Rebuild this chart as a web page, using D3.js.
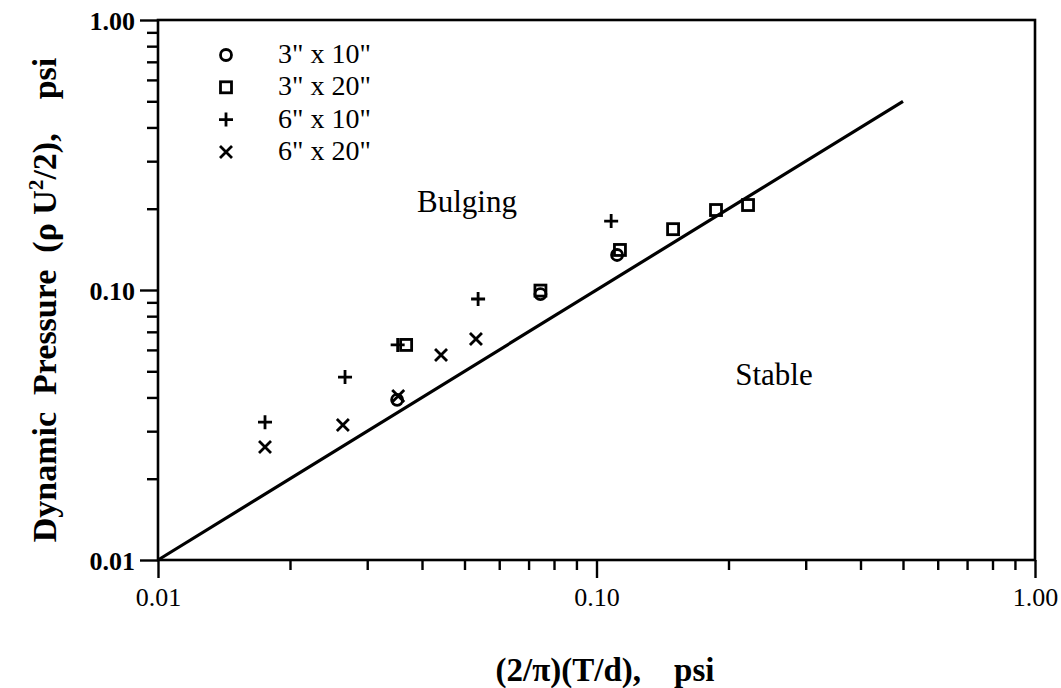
<!DOCTYPE html>
<html>
<head>
<meta charset="utf-8">
<script src="https://cdn.jsdelivr.net/npm/d3@7"></script>
<style>
  body { margin: 0; background: #fff; }
  svg { display: block; font-family: "Liberation Serif", "Times New Roman", serif; }
</style>
</head>
<body>
<svg id="chart" width="1061" height="688"></svg>
<script>
// series: [x, y] pairs
const circle3x10 = [[0.0351, 0.0392], [0.0745, 0.0966], [0.1114, 0.1348]];
const square3x20 = [[0.0368, 0.0626], [0.0745, 0.0995], [0.1131, 0.1407], [0.1495, 0.168], [0.1873, 0.1978], [0.2216, 0.2064]];
const plus6x10 = [[0.01754, 0.0324], [0.0267, 0.0476], [0.0352, 0.0626], [0.0537, 0.0926], [0.108, 0.180]];
const cross6x20 = [[0.01754, 0.0262], [0.0264, 0.0316], [0.0353, 0.0405], [0.0442, 0.0574], [0.0531, 0.0659]];
const boundary = [[0.01, 0.01], [0.5, 0.5]];
const legendLabels = ['3" x 10"', '3" x 20"', '6" x 10"', '6" x 20"'];
const majorTicks = [0.01, 0.1, 1];
const tickLabels = ["0.01", "0.10", "1.00"];

const svg = d3.select("#chart");
const m = { left: 158, right: 1035, top: 20, bottom: 560 };

const x = d3.scaleLog().domain([0.01, 1]).range([m.left, m.right]);
const y = d3.scaleLog().domain([0.01, 1]).range([m.bottom, m.top]);

const minor = d3.range(-2, 0).flatMap(e => d3.range(2, 10).map(k => k * Math.pow(10, e)));

const xMinor = d3.axisBottom(x).tickValues(minor).tickSize(10).tickFormat("");
const yMinor = d3.axisLeft(y).tickValues(minor).tickSize(11).tickFormat("");
const xMajor = d3.axisBottom(x).tickValues(majorTicks).tickSize(18).tickFormat((d, i) => tickLabels[i]).tickPadding(10);
const yMajor = d3.axisLeft(y).tickValues(majorTicks).tickSize(18).tickFormat((d, i) => tickLabels[i]).tickPadding(5);

function style(g) {
  g.select(".domain").remove();
  g.selectAll("line").attr("stroke", "#000").attr("stroke-width", 2.4);
  g.selectAll("text").attr("fill", "#000").attr("font-size", 26)
    .attr("font-family", "Liberation Serif, serif");
}
svg.append("g").attr("transform", `translate(0,${m.bottom})`).call(xMinor).call(style);
svg.append("g").attr("transform", `translate(0,${m.bottom})`).call(xMajor).call(style);
svg.append("g").attr("transform", `translate(${m.left},0)`).call(yMinor).call(style);
svg.append("g").attr("transform", `translate(${m.left},0)`).call(yMajor).call(style)
  .selectAll("text").attr("font-weight", "bold").attr("dy", "0.35em");

// frame
svg.append("rect")
  .attr("x", m.left).attr("y", m.top)
  .attr("width", m.right - m.left).attr("height", m.bottom - m.top)
  .attr("fill", "none").attr("stroke", "#000").attr("stroke-width", 2.6);

// boundary line
svg.append("path")
  .datum(boundary)
  .attr("d", d3.line().x(d => x(d[0])).y(d => y(d[1])))
  .attr("fill", "none").attr("stroke", "#000").attr("stroke-width", 3.2);

// symbols
const sw = 2.8;
function drawMark(g, type) {
  if (type === 0) g.append("circle").attr("r", 5.5);
  else if (type === 1) g.append("rect").attr("x", -5.5).attr("y", -5.5).attr("width", 11).attr("height", 11);
  else if (type === 2) g.append("path").attr("d", "M-7,0H7M0,-7V7");
  else g.append("path").attr("d", "M-6,-6L6,6M-6,6L6,-6");
  g.selectAll("*").attr("fill", "none").attr("stroke", "#000").attr("stroke-width", sw);
}
[circle3x10, square3x20, plus6x10, cross6x20].forEach((series, t) => {
  series.forEach(p => {
    const g = svg.append("g").attr("transform", `translate(${x(p[0])},${y(p[1])})`);
    drawMark(g, t);
  });
});

// legend
legendLabels.forEach((lab, i) => {
  const yy = 55 + i * 32.3;
  drawMark(svg.append("g").attr("transform", `translate(226,${yy})`), i);
  svg.append("text").attr("x", 278).attr("y", yy + 8)
    .attr("font-size", 28).text(lab);
});

// region labels
svg.append("text").attr("x", 467).attr("y", 212).attr("text-anchor", "middle")
  .attr("font-size", 31).text("Bulging");
svg.append("text").attr("x", 774).attr("y", 385).attr("text-anchor", "middle")
  .attr("font-size", 31).text("Stable");

// axis titles
svg.append("text").attr("x", 605).attr("y", 681).attr("text-anchor", "middle")
  .attr("font-size", 33).attr("font-weight", "bold").attr("xml:space", "preserve")
  .text("(2/\u03c0)(T/d),    psi");

const yt = svg.append("text").attr("transform", "translate(56,300) rotate(-90)")
  .attr("text-anchor", "middle").attr("font-size", 34).attr("font-weight", "bold")
  .attr("xml:space", "preserve");
yt.append("tspan").text("Dynamic  Pressure  (\u03c1 U");
yt.append("tspan").attr("font-size", 21).attr("dy", -13).text("2");
yt.append("tspan").attr("dy", 13).text("/2),    psi");
</script>
</body>
</html>
